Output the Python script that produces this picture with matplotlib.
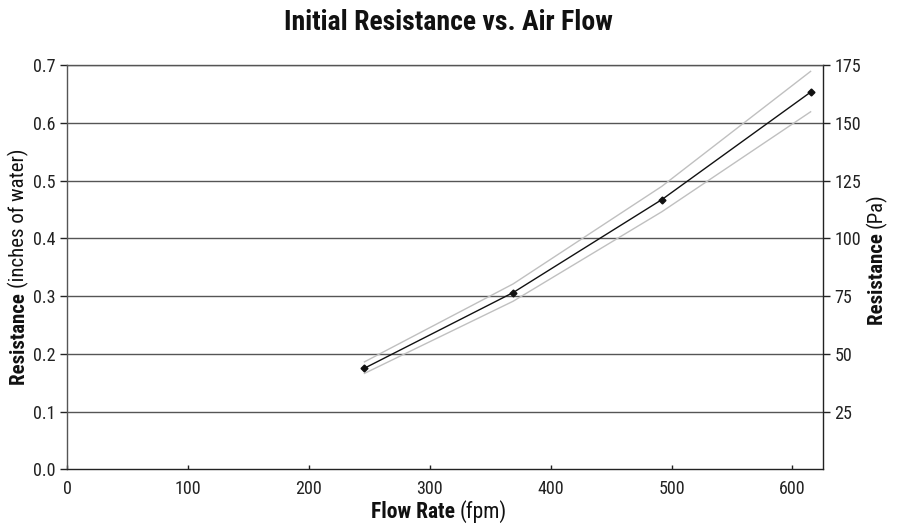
import matplotlib
matplotlib.use("Agg")
import matplotlib.pyplot as plt
from matplotlib import font_manager

names = {f.name for f in font_manager.fontManager.ttflist}
narrow = 'Liberation Sans Narrow' if 'Liberation Sans Narrow' in names else 'Roboto Condensed' if 'Roboto Condensed' in names else 'Liberation Sans'
plt.rcParams['font.family'] = [narrow, 'DejaVu Sans']

# Data
flow = [246, 369, 492, 615]
resistance = [0.175, 0.306, 0.467, 0.653]
upper = [0.186, 0.321, 0.490, 0.689]
lower = [0.166, 0.291, 0.446, 0.619]
left_ticks = [0.0, 0.1, 0.2, 0.3, 0.4, 0.5, 0.6, 0.7]
right_ticks = [25, 50, 75, 100, 125, 150, 175]
x_ticks = [0, 100, 200, 300, 400, 500, 600]

fig = plt.figure(figsize=(9.06, 5.31), dpi=100)
ax = fig.add_axes([67/906, 1-469.3/531, (823.3-67)/906, (469.3-65)/531])

for y in left_ticks[1:]:
    ax.axhline(y, color='#555555', lw=1.0, zorder=1)

ax.plot(flow, upper, color='#c0c0c0', lw=1.0, zorder=2)
ax.plot(flow, lower, color='#c0c0c0', lw=1.0, zorder=2)
ax.plot(flow, resistance, color='#111111', lw=1.0, marker='D', ms=3.5, zorder=3)

ax.set_xlim(0, 625.5)
ax.set_ylim(0, 0.7)
ax.set_xticks(x_ticks)
ax.set_yticks(left_ticks)
ax.set_yticklabels([f"{v:.1f}" for v in left_ticks])
ax.tick_params(axis='both', labelsize=13, colors='#222222', length=4, width=1)
ax.tick_params(axis='x', direction='in', length=3, pad=8)
ax.tick_params(axis='y', direction='out', length=5, pad=3)

for s in ['left', 'top']:
    ax.spines[s].set_color('#555555')
ax.spines['bottom'].set_color('#222222')
ax.spines['right'].set_color('#222222')
for s in ax.spines.values():
    s.set_linewidth(1.0)

ax2 = ax.twinx()
ax2.set_ylim(0, 0.7 * 250)
ax2.set_yticks(right_ticks)
ax2.tick_params(axis='y', labelsize=13, colors='#222222', direction='out', length=5, width=1, pad=3)
for s in ax2.spines.values():
    s.set_visible(False)

fig.canvas.draw()
r = fig.canvas.get_renderer()

# x label: bold + regular parts
tb = fig.text(0, 0, "Flow Rate ", fontsize=15.5, fontweight='bold', color='#111111')
tr = fig.text(0, 0, "(fpm)", fontsize=15.5, color='#111111')
wb = tb.get_window_extent(r).width
wr = tr.get_window_extent(r).width
cx = 439
start = cx - (wb + wr) / 2
tb.set_position((start/906, 1-518/531)); tb.set_va('baseline')
tr.set_position(((start + wb)/906, 1-518/531)); tr.set_va('baseline')

# left y label
lb = fig.text(0, 0, "Resistance ", fontsize=15, fontweight='bold', rotation=90, color='#111111')
lr = fig.text(0, 0, "(inches of water)", fontsize=15, rotation=90, color='#111111')
hb = lb.get_window_extent(r).height
hr = lr.get_window_extent(r).height
cy = 267
startl = cy + (hb + hr) / 2
lb.set_position((29/906, 1-startl/531)); lb.set_ha('right'); lb.set_va('bottom')
lr.set_position((29/906, 1-(startl - hb)/531)); lr.set_ha('right'); lr.set_va('bottom')

# right y label
rb = fig.text(0, 0, "Resistance ", fontsize=15, fontweight='bold', rotation=90, color='#111111')
rr = fig.text(0, 0, "(Pa)", fontsize=15, rotation=90, color='#111111')
hb2 = rb.get_window_extent(r).height
hr2 = rr.get_window_extent(r).height
cy2 = 259
start2 = cy2 + (hb2 + hr2) / 2
rb.set_position((887/906, 1-start2/531)); rb.set_ha('right'); rb.set_va('bottom')
rr.set_position((887/906, 1-(start2 - hb2)/531)); rr.set_ha('right'); rr.set_va('bottom')

fig.text(448/906, 1-22/531, "Initial Resistance vs. Air Flow", fontsize=20, fontweight='bold',
         ha='center', va='center', color='#111111')

fig.savefig("out.png", dpi=100)
